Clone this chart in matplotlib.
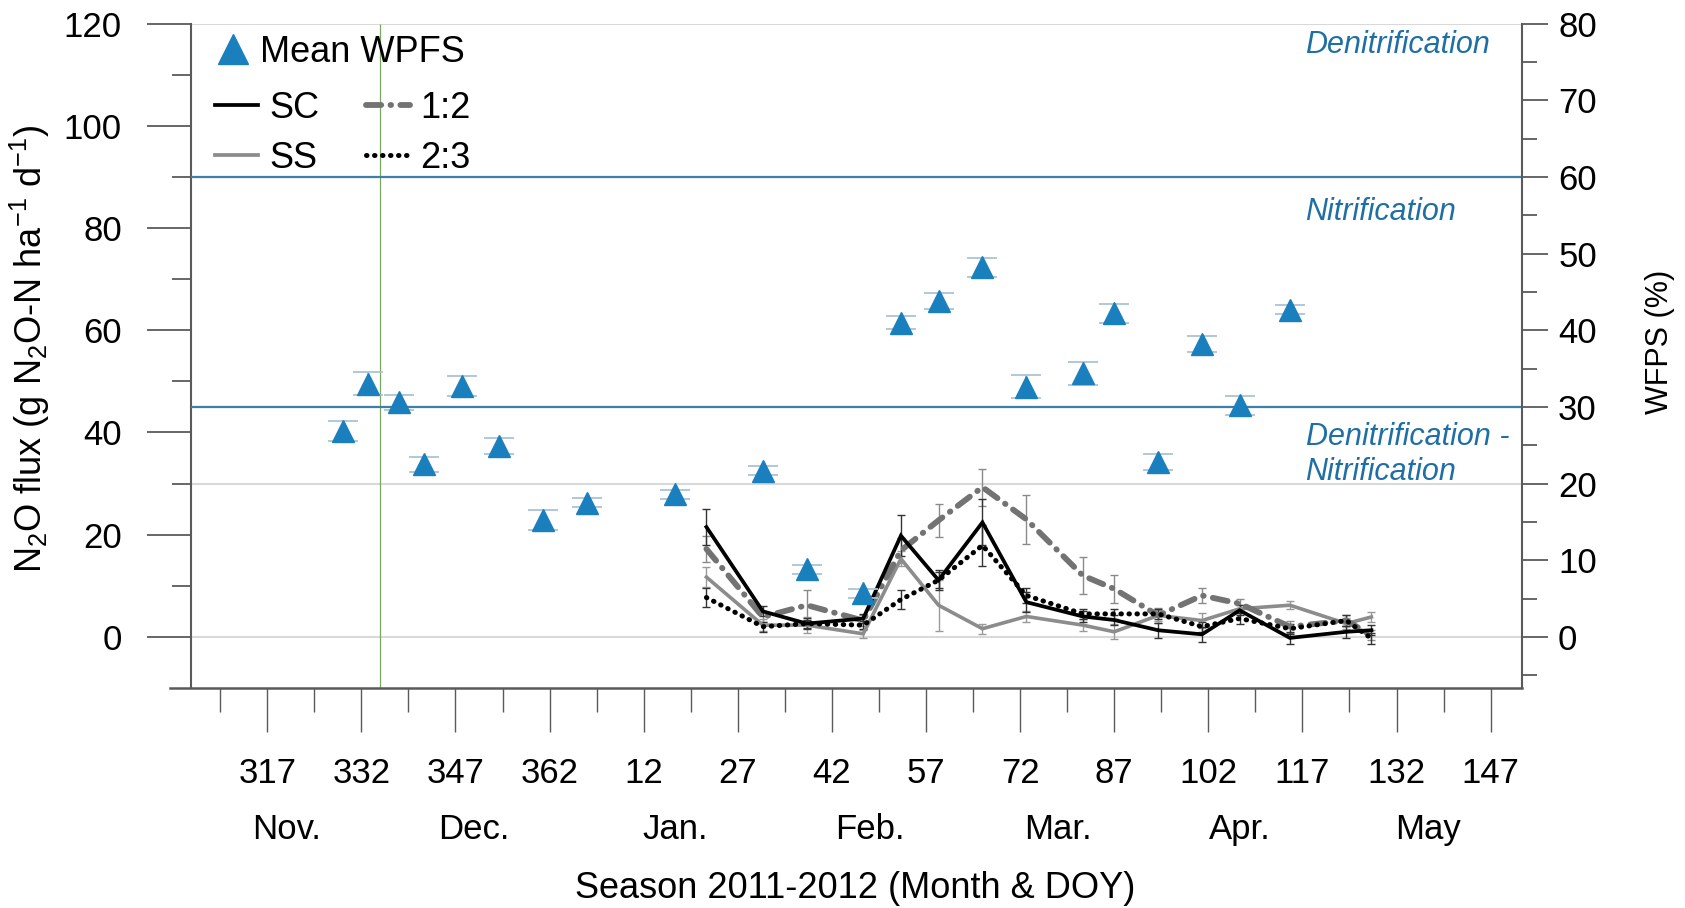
import numpy as np
import matplotlib
matplotlib.use("Agg")
import matplotlib.pyplot as plt
from matplotlib.lines import Line2D
from matplotlib.ticker import FixedLocator

plt.rcParams['font.family'] = ['Liberation Sans', 'DejaVu Sans']
plt.rcParams['mathtext.fontset'] = 'custom'
plt.rcParams['mathtext.rm'] = 'Liberation Sans'
plt.rcParams['mathtext.it'] = 'Liberation Sans:italic'

# Datos: flujo de N2O (eje izquierdo), DOY de muestreo
flux_doy = [22, 31, 38, 47, 53, 59, 66, 73, 82, 87, 94, 101, 107, 115, 124, 128]
sc = [21.5, 5.0, 2.6, 3.6, 19.8, 11.1, 22.4, 6.8, 4.0, 3.3, 1.3, 0.5, 5.2, -0.2, 1.0, 1.3]
ss = [11.7, 2.3, 2.3, 0.6, 15.3, 6.2, 1.6, 4.0, 2.3, 1.0, 4.2, 3.2, 5.5, 6.2, 2.6, 3.9]
r12 = [17.2, 3.9, 6.2, 3.2, 16.9, 22.8, 29.3, 23.0, 12.0, 9.4, 4.2, 8.1, 6.5, 2.0, 3.2, 0.3]
r23 = [7.7, 2.0, 2.6, 2.3, 7.3, 11.1, 17.9, 8.1, 4.5, 4.5, 4.5, 2.0, 3.6, 1.6, 3.2, -0.3]
sc_err = [3.5, 1.0, 0.8, 0.8, 4.0, 1.5, 4.5, 2.0, 1.0, 1.0, 1.5, 1.5, 1.0, 1.2, 1.2, 1.0]
ss_err = [2.0, 1.2, 1.5, 0.8, 1.5, 5.0, 1.0, 1.0, 1.2, 1.5, 1.0, 1.5, 0.8, 0.8, 1.0, 1.0]
r12_err = [2.5, 1.0, 3.0, 1.0, 2.5, 3.2, 3.6, 4.8, 3.6, 2.8, 1.5, 1.5, 1.0, 1.2, 1.0, 1.0]
r23_err = [1.8, 1.0, 1.0, 0.8, 1.8, 2.0, 4.0, 1.5, 1.0, 1.0, 1.0, 1.0, 1.0, 1.0, 1.0, 1.0]

# WFPS medio (eje derecho)
wfps_doy = [329, 333, 338, 342, 348, 354, 361, 3, 17, 31, 38, 47, 53, 59, 66, 73, 82, 87, 94, 101, 107, 115]
wfps = [26.8, 33.0, 30.6, 22.5, 32.7, 24.9, 15.2, 17.5, 18.6, 21.7, 8.8, 5.7,
        41.0, 43.8, 48.2, 32.6, 34.4, 42.2, 22.8, 38.2, 30.2, 42.7]
wfps_err = [1.3, 1.5, 1.0, 1.0, 1.3, 1.0, 1.3, 0.6, 0.6, 0.6, 0.6, 0.6,
            0.8, 1.0, 1.2, 1.5, 1.5, 1.2, 1.0, 1.0, 1.2, 0.6]

# Eje X: DOY etiquetados y meses
doy_ticks = [317, 332, 347, 362, 12, 27, 42, 57, 72, 87, 102, 117, 132, 147]
months = ['Nov.', 'Dec.', 'Jan.', 'Feb.', 'Mar.', 'Apr.', 'May']
month_doy = [320, 350, 17, 48, 78, 107, 137]

# Umbrales de WFPS
wfps_limits = [60, 30]
sampling_doy = 335


def season_day(doy):
    # días continuos de la temporada (2012 va después de 365)
    doy = np.asarray(doy, dtype=float)
    return np.where(doy < 200, doy + 365, doy)


x_flux = season_day(flux_doy)
x_wfps = season_day(wfps_doy)
x_ticks = season_day(doy_ticks)
x_month = season_day(month_doy)

W, H = 1685, 908
fig = plt.figure(figsize=(W / 100, H / 100), dpi=100)
ax = fig.add_axes([170 / W, 220 / H, 1352 / W, 664.4 / H])
ax2 = ax.twinx()

x0, x1 = 301.5, 517.0
spine_x = 304.9
ax.set_xlim(x0, x1)
ax.set_ylim(-10, 120)
ax2.set_ylim(-20 / 3, 80)

axis_col = '#5a5a5a'
grid_col = '#d9d9d9'
blue_line = '#3f7fa6'
txt_blue = '#1f6fa5'
fs = 25

for s in ['top', 'right']:
    ax.spines[s].set_visible(False)
ax.spines['left'].set_position(('data', spine_x))
ax.spines['left'].set_color(axis_col)
ax.spines['bottom'].set_color(axis_col)
ax.spines['left'].set_linewidth(1.5)
ax.spines['bottom'].set_linewidth(1.8)
for s in ['top', 'left', 'bottom']:
    ax2.spines[s].set_visible(False)
ax2.spines['right'].set_color(axis_col)
ax2.spines['right'].set_linewidth(1.5)

# líneas de fondo
for v in [0, 30, 120]:
    ax.hlines(v, spine_x, x1, color=grid_col, lw=1.5, zorder=0.5)
for v in wfps_limits:
    ax2.hlines(v, spine_x, x1, color=blue_line, lw=1.6, zorder=1)
ax.vlines(season_day(sampling_doy), -10, 120, color='#7aa860', lw=0.9, zorder=1)

# series de flujo
eb = dict(fmt='none', elinewidth=1.0, capsize=3, capthick=1.0, zorder=2)
ax.errorbar(x_flux, r12, yerr=r12_err, ecolor='#8a8a8a', **eb)
ax.errorbar(x_flux, ss, yerr=ss_err, ecolor='#9a9a9a', **eb)
ax.errorbar(x_flux, sc, yerr=sc_err, ecolor='#333333', **eb)
ax.errorbar(x_flux, r23, yerr=r23_err, ecolor='#333333', **eb)

ax.plot(x_flux, ss, color='#8c8c8c', lw=2.6, zorder=3, solid_joinstyle='miter')
ax.plot(x_flux, r12, color='#737373', lw=4.2, zorder=3,
        dashes=(2.6, 1.6, 0.1, 1.6), dash_capstyle='round')
ax.plot(x_flux, sc, color='black', lw=2.7, zorder=4, solid_joinstyle='miter')
ax.plot(x_flux, r23, color='black', lw=3.6, zorder=4,
        dashes=(0.1, 1.5), dash_capstyle='round')

# WFPS
ax2.errorbar(x_wfps, wfps, yerr=wfps_err, fmt='^', color='#1a80bd', ms=16,
             mec='#1a80bd', ecolor='#a9c4d4', elinewidth=1.2, capsize=11,
             capthick=1.3, zorder=5)

# etiquetas de procesos
tx = 482.5
tkw = dict(color=txt_blue, style='italic', fontsize=22, va='center')
ax.text(tx, 115.8, 'Denitrification', **tkw)
ax.text(tx, 83.2, 'Nitrification', **tkw)
ax.text(tx, 39.1, 'Denitrification -', **tkw)
ax.text(tx, 32.3, 'Nitrification', **tkw)

# ticks eje Y izquierdo
ax.set_yticks(np.arange(0, 121, 20))
ax.yaxis.set_minor_locator(FixedLocator(np.arange(10, 120, 20)))
ax.tick_params(axis='y', which='major', length=32, width=1.3, color=axis_col,
               labelsize=fs, pad=18)
ax.tick_params(axis='y', which='minor', length=14, width=1.3, color=axis_col)

# ticks eje Y derecho
ax2.set_yticks(np.arange(0, 81, 10))
ax2.yaxis.set_minor_locator(FixedLocator(np.arange(-5, 80, 10)))
ax2.tick_params(axis='y', which='major', length=19, width=1.3, color=axis_col,
                labelsize=fs, pad=7)
ax2.tick_params(axis='y', which='minor', length=11, width=1.3, color=axis_col)

# ticks eje X
ax.set_xticks(x_ticks)
ax.set_xticklabels([str(d) for d in doy_ticks])
ax.xaxis.set_minor_locator(FixedLocator(x_ticks - 7.5))
ax.tick_params(axis='x', which='major', length=32, width=1.0, color=axis_col,
               labelsize=fs, pad=18)
ax.tick_params(axis='x', which='minor', length=17, width=1.0, color=axis_col)

for xm, m in zip(x_month, months):
    ax.text(xm, -0.2137, m, transform=ax.get_xaxis_transform(), ha='center',
            va='center', fontsize=fs)

ax.set_xlabel('Season 2011-2012 (Month & DOY)', fontsize=26)
ax.xaxis.set_label_coords(0.507, -0.3025)
ax.xaxis.label.set_va('center')

ax.set_ylabel('N$_2$O flux (g N$_2$O-N ha$^{-1}$ d$^{-1}$)', fontsize=26)
ax.yaxis.set_label_coords(-0.1036, 0.51)
ax.yaxis.label.set_va('center')

ax2.set_ylabel('WFPS (%)', fontsize=22, rotation=90)
ax2.yaxis.set_label_coords(1.102, 0.521)
ax2.yaxis.label.set_va('center')

# leyenda
h_w = Line2D([], [], marker='^', ls='none', color='#1a80bd', ms=21)
leg1 = ax2.legend([h_w], ['Mean WPFS'], loc='upper left', bbox_to_anchor=(0.036, 0.9835),
                  frameon=False, fontsize=26, handlelength=0.8, handletextpad=0.35,
                  borderpad=0, borderaxespad=0)
ax2.add_artist(leg1)
h_sc = Line2D([], [], color='black', lw=2.7)
h_ss = Line2D([], [], color='#8c8c8c', lw=2.7)
h_12 = Line2D([], [], color='#737373', lw=4.2, dashes=(2.6, 1.6, 0.1, 1.6), dash_capstyle='round')
h_23 = Line2D([], [], color='black', lw=3.6, dashes=(0.1, 1.5), dash_capstyle='round')
ax2.legend([h_sc, h_ss, h_12, h_23], ['SC', 'SS', '1:2', '2:3'], ncol=2,
           loc='upper left', bbox_to_anchor=(0.0333, 0.899), frameon=False, fontsize=26,
           handlelength=1.2, handletextpad=0.3, columnspacing=1.3, labelspacing=0.42,
           borderpad=0, borderaxespad=0)

fig.savefig('out.png', dpi=100)
